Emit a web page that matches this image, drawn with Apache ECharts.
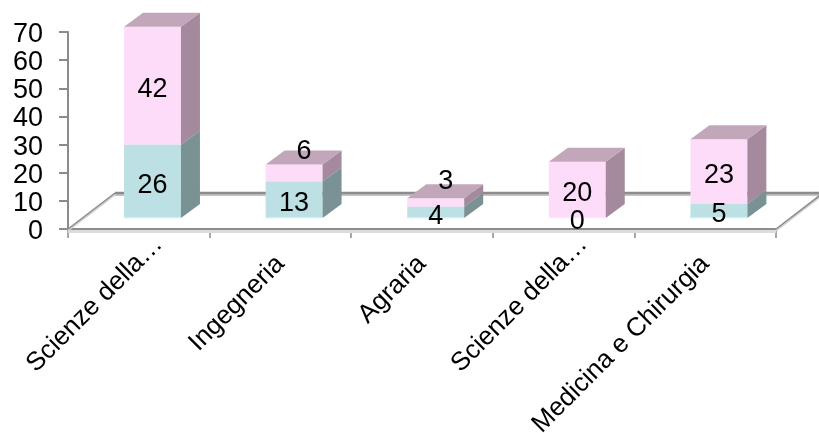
<!DOCTYPE html>
<html>
<head>
<meta charset="utf-8">
<style>html,body{margin:0;padding:0;background:#fff}#chart{width:819px;height:433px}</style>
<script src="https://cdn.jsdelivr.net/npm/echarts@6/dist/echarts.min.js"></script>
</head>
<body>
<div id="chart"></div>
<script>
// Faculties and their two stacked groups
const categories = ['Scienze della…', 'Ingegneria', 'Agraria', 'Scienze della…', 'Medicina e Chirurgia'];
const lowerValues = [26, 13, 4, 0, 5];
const upperValues = [42, 6, 3, 20, 23];
const yTicks = { min: 0, max: 70, step: 10 };

// Oblique projection used for the pseudo-3D look
const FLOOR = { dx: 47, dy: -36 };
const BAR = { dx: 13.7, dy: -11, depthX: 19, depthY: -14, widthRatio: 0.402 };
const FONT = '"Liberation Sans", Arial, sans-serif';
const SMALL_SEGMENT = 6;

const PALETTE = {
  lower: { front: '#bce0e3', side: '#7a9294', top: '#8da8aa', edge: '#d8eff1' },
  upper: { front: '#fddcf9', side: '#a48a9c', top: '#c2a7bb', edge: '#fdeafb' }
};

function poly(points, fill) {
  return { type: 'polygon', shape: { points }, style: { fill }, silent: true };
}

// Draws one stacked segment: front face, side face, optional top face, value label
function renderSegment(colors, isTopOfStack, params, api) {
  const idx = api.value(0), base = api.value(1), value = api.value(2);
  const width = api.size([1, 0])[0] * BAR.widthRatio;
  const center = api.coord([idx, 0])[0] + BAR.dx;
  const x0 = center - width / 2, x1 = center + width / 2;
  const yBase = api.coord([idx, base])[1] + BAR.dy;
  const yTop = api.coord([idx, base + value])[1] + BAR.dy;
  const children = [];
  if (value > 0) {
    children.push(poly([[x0, yBase], [x1, yBase], [x1, yTop], [x0, yTop]], colors.front));
    children.push(poly([[x1, yBase], [x1 + BAR.depthX, yBase + BAR.depthY],
      [x1 + BAR.depthX, yTop + BAR.depthY], [x1, yTop]], colors.side));
    if (base === 0) {
      children.push(poly([[x0, yBase - 1], [x1, yBase - 1], [x1, yBase + 0.6], [x0, yBase + 0.6]], colors.edge));
    }
    if (isTopOfStack) {
      children.push(poly([[x0, yTop], [x1, yTop], [x1 + BAR.depthX, yTop + BAR.depthY],
        [x0 + BAR.depthX, yTop + BAR.depthY]], colors.top));
    }
  }
  // Thin upper segments carry their label on the top face instead
  const lifted = isTopOfStack && value <= SMALL_SEGMENT;
  children.push({
    type: 'text',
    z2: 10,
    silent: true,
    style: {
      text: String(value),
      x: center + (lifted ? 10 : 0),
      y: (yBase + yTop) / 2 + (lifted ? -21 : 4),
      align: 'center',
      verticalAlign: 'middle',
      fill: '#000',
      font: '27px ' + FONT
    }
  });
  return { type: 'group', children };
}

// Floor of the plot: back edge, two slanted sides, soft edge under each line
function renderFloor(params) {
  const cs = params.coordSys;
  const xL = cs.x, xR = cs.x + cs.width, yF = cs.y + cs.height;
  const yB = yF + FLOOR.dy;
  const seg = (a, b, stroke, lineWidth) => ({
    type: 'line', silent: true,
    shape: { x1: a[0], y1: a[1], x2: b[0], y2: b[1] },
    style: { stroke, lineWidth }
  });
  const back = [[xL + FLOOR.dx, yB], [xR + FLOOR.dx, yB]];
  const left = [[xL, yF], [xL + FLOOR.dx, yB]];
  const right = [[xR, yF], [xR + FLOOR.dx, yB]];
  const shift = (s, d) => s.map(p => [p[0], p[1] + d]);
  return {
    type: 'group',
    children: [
      seg([xL, yF + 2.5], [xR, yF + 2.5], '#dcdcdc', 3),
      seg(...shift(back, 2), '#c4c4c4', 2),
      seg(...shift(left, 1.5), '#cfcfcf', 2),
      seg(...shift(right, 1.5), '#cfcfcf', 2),
      seg(...back, '#8c8c8c', 2.5),
      seg(...left, '#8c8c8c', 1.5),
      seg(...right, '#8c8c8c', 1.5)
    ]
  };
}

const lowerData = categories.map((_, i) => [i, 0, lowerValues[i]]);
const upperData = categories.map((_, i) => [i, lowerValues[i], upperValues[i]]);

// Truncated names sit further along their slanted baseline
const axisCategories = categories.map(name => name.endsWith('…')
  ? { value: name, textStyle: { padding: [0, -28, 0, 0] } }
  : name);

const chart = echarts.init(document.getElementById('chart'));
chart.setOption({
  animation: false,
  backgroundColor: '#fff',
  grid: { left: 68, right: 43, top: 32, bottom: 204, outerBoundsMode: 'none' },
  xAxis: {
    type: 'category',
    data: axisCategories,
    axisLine: { lineStyle: { color: '#8c8c8c', width: 2 } },
    axisTick: { show: true, length: 9, lineStyle: { color: '#8c8c8c', width: 1.5 } },
    axisLabel: {
      interval: 0, rotate: 45, margin: 31, fontFamily: FONT, fontSize: 26, color: '#000'
    }
  },
  yAxis: {
    type: 'value',
    min: yTicks.min,
    max: yTicks.max,
    interval: yTicks.step,
    splitLine: { show: false },
    axisLine: { show: true, lineStyle: { color: '#8c8c8c', width: 2 } },
    axisTick: { show: true, length: 9, lineStyle: { color: '#8c8c8c', width: 2 } },
    axisLabel: {
      margin: 25,
      formatter: '{tick|{value}}',
      rich: { tick: { fontFamily: FONT, fontSize: 27, color: '#000', padding: [5, 0, 0, 0] } }
    }
  },
  series: [
    { type: 'custom', name: 'floor', data: [[0, 0, 0]], z: 1, clip: false, silent: true,
      renderItem: renderFloor, encode: { x: 0, y: 1 } },
    { type: 'custom', name: 'upper', data: upperData, z: 2, clip: false, silent: true,
      renderItem: renderSegment.bind(null, PALETTE.upper, true), encode: { x: 0, y: [1, 2] } },
    { type: 'custom', name: 'lower', data: lowerData, z: 3, clip: false, silent: true,
      renderItem: renderSegment.bind(null, PALETTE.lower, false), encode: { x: 0, y: [1, 2] } }
  ]
});
</script>
</body>
</html>
